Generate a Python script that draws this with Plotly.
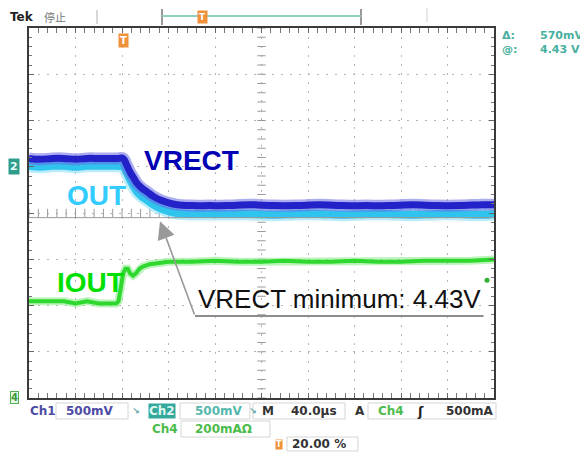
import numpy as np
import plotly.graph_objects as go

# ---------------- data ----------------
# time in microseconds relative to trigger (40 us/div, trigger at 20 % of record)
wave_t_us = [-80, -70, -60, -50, -40, -30, -20, -10, -4, 1, 4, 7, 10, 13, 17, 21.5, 27, 33, 40, 47, 60, 75,
             90, 110, 130, 150, 170, 190, 210, 230, 250, 270, 290, 310, 320]
vrect_v = [5.07, 5.06, 5.07, 5.07, 5.06, 5.07, 5.07, 5.07, 5.07, 5.07, 5.00, 4.92, 4.86, 4.80, 4.75, 4.71,
           4.66, 4.62, 4.59, 4.57, 4.56, 4.56, 4.56, 4.57, 4.56, 4.56, 4.57, 4.56, 4.56, 4.56, 4.57, 4.56,
           4.56, 4.57, 4.57]
out_v = [4.99, 4.98, 4.99, 4.99, 4.98, 4.99, 4.99, 4.99, 4.99, 4.98, 4.92, 4.84, 4.77, 4.71, 4.66, 4.62,
         4.57, 4.53, 4.50, 4.48, 4.47, 4.47, 4.47, 4.47, 4.46, 4.47, 4.47, 4.46, 4.47, 4.47, 4.46, 4.47,
         4.47, 4.46, 4.47]
iout_t_us = [-80, -70, -60, -50, -40, -30, -20, -10, -5, -3, -2, -1, 1, 3, 5, 7, 9.5, 12, 15, 18, 24, 32, 40,
             60, 80, 100, 120, 140, 160, 180, 200, 220, 240, 260, 280, 300, 320]
iout_a = [0.41, 0.41, 0.41, 0.41, 0.40, 0.41, 0.40, 0.40, 0.40, 0.41, 0.44, 0.49, 0.53, 0.55, 0.55, 0.53,
          0.52, 0.53, 0.55, 0.56, 0.57, 0.575, 0.58, 0.58, 0.585, 0.58, 0.58, 0.585, 0.58, 0.58, 0.585,
          0.58, 0.58, 0.585, 0.585, 0.585, 0.59]

cursor_v = 4.43          # cursor @ level
cursor_delta = "570mV"
trigger_level_a = 0.5

# scope settings
t_range = [-80, 320]     # 10 div x 40 us
v_range = [2.48, 6.48]   # 8 div x 0.5 V
i_range = [-0.0086, 1.591]  # Ch4 200 mA/div with its own offset

OFF = 8                  # page body margin in the browser
W, H = 588 - OFF, 452 - OFF
PL, PR, PT, PB = 29, 494, 28, 398   # plot frame in screen pixels
L, T = PL - OFF, PT - OFF
R, B = W - (PR - OFF), H - (PB - OFF)


def PX(x):
    return (x - PL) / (PR - PL)


def PY(y):
    return (PB - y) / (PB - PT)


fig = go.Figure()

# centre-line graticule ticks
tc = np.arange(t_range[0], t_range[1] + 0.01, 8)
vc = np.arange(v_range[0], v_range[1] + 0.001, 0.1)
fig.add_trace(go.Scatter(x=tc, y=[4.48] * len(tc), mode="markers",
                         marker=dict(symbol="line-ns", size=6, line=dict(width=1, color="#9a9a9a")),
                         hoverinfo="skip", showlegend=False))
fig.add_trace(go.Scatter(x=[120] * len(vc), y=vc, mode="markers",
                         marker=dict(symbol="line-ew", size=6, line=dict(width=1, color="#9a9a9a")),
                         hoverinfo="skip", showlegend=False))

# OUT (cyan)
fig.add_trace(go.Scatter(x=wave_t_us, y=out_v, mode="lines", line=dict(color="#8fe0f8", width=13, shape="spline"),
                         opacity=0.6, hoverinfo="skip", showlegend=False))
fig.add_trace(go.Scatter(x=wave_t_us, y=out_v, mode="lines", line=dict(color="#2ec4ee", width=8, shape="spline"),
                         name="OUT", showlegend=False))
# VRECT (dark blue)
fig.add_trace(go.Scatter(x=wave_t_us, y=vrect_v, mode="lines", line=dict(color="#6a6ae6", width=12, shape="spline"),
                         opacity=0.55, hoverinfo="skip", showlegend=False))
fig.add_trace(go.Scatter(x=wave_t_us, y=vrect_v, mode="lines", line=dict(color="#2222c8", width=7, shape="spline"),
                         name="VRECT", showlegend=False))
# IOUT (green) on second axis
fig.add_trace(go.Scatter(x=iout_t_us, y=iout_a, mode="lines", line=dict(color="#90ee90", width=8),
                         opacity=0.6, yaxis="y2", hoverinfo="skip", showlegend=False))
fig.add_trace(go.Scatter(x=iout_t_us, y=iout_a, mode="lines", line=dict(color="#2ed82e", width=4),
                         yaxis="y2", name="IOUT", showlegend=False))
# trigger level marker
fig.add_trace(go.Scatter(x=[314], y=[trigger_level_a], mode="markers", yaxis="y2",
                         marker=dict(symbol="circle", size=5, color="#30b030"),
                         hoverinfo="skip", showlegend=False))

axis_common = dict(showticklabels=False, showline=True, linecolor="#3a3a3a", linewidth=2,
                   mirror="allticks", ticks="inside", ticklen=5, tickcolor="#666", zeroline=False,
                   showgrid=True, gridcolor="#b5b5b5", gridwidth=1, griddash="2px,7px")

fig.update_layout(
    width=W, height=H, margin=dict(l=L, r=R, t=T, b=B),
    paper_bgcolor="white", plot_bgcolor="white",
    font=dict(family="Liberation Sans, Arial, sans-serif"),
    xaxis=dict(range=t_range, tick0=0, dtick=40,
               minor=dict(dtick=8, tick0=0, ticks="inside", ticklen=3, tickcolor="#777", showgrid=False),
               **axis_common),
    yaxis=dict(range=v_range, tick0=4.48, dtick=0.5,
               minor=dict(dtick=0.1, tick0=4.48, ticks="inside", ticklen=3, tickcolor="#777", showgrid=False),
               **axis_common),
    yaxis2=dict(range=i_range, overlaying="y", visible=False),
)

shapes = []
# cursor line
shapes.append(dict(type="line", xref="paper", yref="y", x0=0, x1=1, y0=cursor_v, y1=cursor_v,
                   line=dict(color="#9a9a9a", width=1)))
# underline of note
shapes.append(dict(type="line", xref="x", yref="y", x0=62.8, x1=311, y0=3.367, y1=3.367,
                   line=dict(color="#8c8c8c", width=2)))
# top record bar
shapes.append(dict(type="line", xref="paper", yref="paper", x0=PX(97), x1=PX(97), y0=PY(10), y1=PY(24),
                   line=dict(color="#b0b0b0", width=1)))
shapes.append(dict(type="line", xref="paper", yref="paper", x0=PX(162), x1=PX(162), y0=PY(9), y1=PY(25),
                   line=dict(color="#777", width=1.5)))
shapes.append(dict(type="line", xref="paper", yref="paper", x0=PX(361), x1=PX(361), y0=PY(9), y1=PY(25),
                   line=dict(color="#777", width=1.5)))
shapes.append(dict(type="line", xref="paper", yref="paper", x0=PX(162), x1=PX(361), y0=PY(16), y1=PY(16),
                   line=dict(color="#8fcfc0", width=2)))
shapes.append(dict(type="line", xref="paper", yref="paper", x0=PX(427), x1=PX(427), y0=PY(4), y1=PY(22),
                   line=dict(color="#d0d0d0", width=1)))
# bottom readout boxes
for (x0, y0, x1, y1) in [(56, 403, 128, 419), (180, 403, 250, 419), (253, 403, 345, 419),
                         (368, 403, 496, 419), (181, 421, 270, 437), (287, 437, 358, 451)]:
    shapes.append(dict(type="rect", xref="paper", yref="paper", x0=PX(x0), x1=PX(x1), y0=PY(y1), y1=PY(y0),
                       line=dict(color="#d5d5d5", width=1)))
fig.update_layout(shapes=shapes)

ann = []


def ptext(x, y, text, color="#333", size=12, bold=True, family="DejaVu Sans, sans-serif", xanchor="center",
          **kw):
    ann.append(dict(xref="paper", yref="paper", x=PX(x), y=PY(y), text=text, showarrow=False,
                    xanchor=xanchor, yanchor="middle",
                    font=dict(color=color, size=size, family=family, weight="bold" if bold else "normal"),
                    **kw))


# trace labels
ann.append(dict(xref="x", yref="y", x=60, y=5.05, text="VRECT", showarrow=False,
                font=dict(color="#0000b4", size=28, family="Liberation Sans, Arial", weight="bold")))
ann.append(dict(xref="x", yref="y", x=-22, y=4.67, text="OUT", showarrow=False,
                font=dict(color="#33ccff", size=28, family="Liberation Sans, Arial", weight="bold")))
ann.append(dict(xref="x", yref="y2", x=-27, y=0.49, text="IOUT", showarrow=False,
                font=dict(color="#00e000", size=28, family="Liberation Sans, Arial", weight="bold")))
# note + arrow
ann.append(dict(xref="x", yref="y", x=187, y=3.55, text="VRECT minimum: 4.43V", showarrow=False,
                font=dict(color="#111", size=26, family="Liberation Sans, Arial")))
ann.append(dict(xref="x", yref="y", x=32.7, y=4.39, axref="x", ayref="y", ax=62.8, ay=3.367, text="",
                showarrow=True, arrowhead=2, arrowsize=2.2, arrowwidth=1.6, arrowcolor="#999"))

# header
ptext(8, 17, "Tek", color="#222", size=12, family="DejaVu Sans", xanchor="left")
ptext(42, 17, "停止", color="#777", size=11, bold=False, family="Noto Sans CJK SC", xanchor="left")
ptext(202, 17, "T", color="#ffffff", size=9, bgcolor="#f0903a", borderpad=1)
ptext(123, 40, "T", color="#ffffff", size=10, bgcolor="#f0903a", borderpad=1)
# right readout
ptext(500, 35, "Δ:", color="#48b0a0", size=11, xanchor="left")
ptext(538, 35, cursor_delta, color="#48b0a0", size=11, xanchor="left")
ptext(500, 50, "@:", color="#48b0a0", size=11, xanchor="left")
ptext(538, 50, f"{cursor_v:.2f} V", color="#48b0a0", size=11, xanchor="left")
# channel ground markers
ptext(14, 166, "2", color="#e8fff8", size=11, bgcolor="#2f9c8c", borderpad=1)
ptext(14, 397, "4", color="#3a9a3a", size=10, bgcolor="#e4f6e4", bordercolor="#55b055", borderpad=0)
# bottom readouts
ptext(28, 411, "Ch1", color="#4c4ca4", size=12, xanchor="left")
ptext(64, 411, "500mV", color="#4c4ca4", size=12, xanchor="left")
ptext(136, 411, "↘", color="#6aa", size=9)
ptext(162, 411, "Ch2", color="#dff7f3", size=12, bgcolor="#35a89c", borderpad=0)
ptext(193, 411, "500mV", color="#55b8ae", size=12, xanchor="left")
ptext(253, 411, "↘", color="#6aa", size=9)
ptext(260, 411, "M", color="#333", size=12, xanchor="left")
ptext(289, 411, "40.0µs", color="#333", size=12, xanchor="left")
ptext(360, 411, "A", color="#333", size=12)
ptext(391, 411, "Ch4", color="#4cbc4c", size=12)
ptext(420, 411, "ʃ", color="#222", size=13)
ptext(444, 411, "500mA", color="#333", size=12, xanchor="left")
ptext(150, 429, "Ch4", color="#4cbc4c", size=12, xanchor="left")
ptext(193, 429, "200mAΩ", color="#4cbc4c", size=12, xanchor="left")
ptext(279, 444, "T", color="#ffffff", size=8, bgcolor="#f0903a", borderpad=0)
ptext(290, 444, "20.00 %", color="#333", size=12, xanchor="left")

fig.update_layout(annotations=ann)

fig.write_html("out.html")
